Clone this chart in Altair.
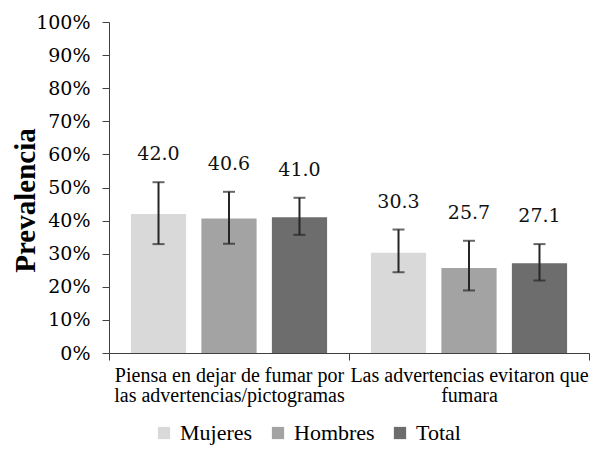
import altair as alt
import pandas as pd

categories = ["Piensa en dejar de fumar por\nlas advertencias/pictogramas",
              "Las advertencias evitaron que\nfumara"]
series = ["Mujeres", "Hombres", "Total"]
values = [[42.0, 40.6, 41.0], [30.3, 25.7, 27.1]]
lower = [[32.9, 33.0, 35.7], [24.4, 18.9, 21.9]]
upper = [[51.6, 48.7, 46.9], [37.3, 33.9, 32.9]]
colors = ["#d9d9d9", "#a3a3a3", "#6d6d6d"]
y_ticks = [0, 10, 20, 30, 40, 50, 60, 70, 80, 90, 100]

rows = []
for ci, c in enumerate(categories):
    for si, s in enumerate(series):
        rows.append({"cat": c, "serie": s, "value": values[ci][si],
                     "lo": lower[ci][si], "hi": upper[ci][si],
                     "lab": f"{values[ci][si]:.1f}"})
df = pd.DataFrame(rows)

NUM_FONT = "DejaVu Serif"
TXT_FONT = "Liberation Serif"
INK = "#262626"

x_axis = alt.Axis(labelAngle=0, labelExpr="split(datum.label, '\\n')",
                  labelFont=TXT_FONT, labelFontSize=20, labelColor="#000000",
                  labelLineHeight=20, labelPadding=5, labelLimit=0,
                  labelBaseline="top", labelOverlap=False,
                  tickBand="extent", tickSize=7, tickColor="#404040",
                  domainColor="#404040", grid=False)
y_axis = alt.Axis(values=y_ticks, labelExpr="datum.value + '%'",
                  labelFont=NUM_FONT, labelFontSize=19, labelColor="#000000",
                  labelPadding=12, labelOverlap=False, tickSize=7,
                  tickColor="#404040", domainColor="#404040", grid=False,
                  titleFont=TXT_FONT, titleFontSize=29, titleFontWeight="bold",
                  titleColor="#000000", titleX=-75, titleY=178,
                  titleBaseline="alphabetic", titleAlign="center", titleAngle=270)
x_scale = alt.Scale(paddingInner=0, paddingOuter=0)
y_scale = alt.Scale(domain=[0, 100], nice=False)

x_enc = alt.X("cat:N", sort=categories, title=None, scale=x_scale, axis=x_axis)
xo = alt.XOffset("serie:N", sort=series,
                 scale=alt.Scale(paddingInner=0.217, paddingOuter=0.311))


def y_enc(field):
    return alt.Y(field, type="quantitative", scale=y_scale, title="Prevalencia", axis=y_axis)


base = alt.Chart(df)

bars = base.mark_bar().encode(
    x=x_enc, xOffset=xo, y=y_enc("value"),
    color=alt.Color("serie:N", sort=series,
                    scale=alt.Scale(domain=series, range=colors),
                    legend=alt.Legend(title=None, orient="none", direction="horizontal",
                                      legendX=44, legendY=400, symbolType="square",
                                      symbolSize=150, symbolStrokeWidth=0,
                                      labelFont=TXT_FONT, labelFontSize=22,
                                      labelColor="#000000", labelOffset=5,
                                      columnPadding=14, padding=0)),
)

rules = base.mark_rule(color=INK, strokeWidth=2).encode(
    x=x_enc, xOffset=xo, y=y_enc("lo"), y2="hi:Q")

cap_hi = base.mark_tick(color=INK, thickness=2, size=12).encode(
    x=x_enc, xOffset=xo, y=y_enc("hi"))
cap_lo = base.mark_tick(color=INK, thickness=2, size=12).encode(
    x=x_enc, xOffset=xo, y=y_enc("lo"))

labels = base.mark_text(font=NUM_FONT, fontSize=19, color="#111111",
                        baseline="middle", dy=-28).encode(
    x=x_enc, xOffset=xo, y=y_enc("hi"), text="lab:N")

chart = alt.layer(bars, rules, cap_hi, cap_lo, labels).properties(
    width=480, height=331,
    autosize=alt.AutoSizeParams(type="none"),
    padding={"left": 101, "top": 14, "right": 1, "bottom": 93},
).configure(background="#ffffff").configure_view(stroke=None)

chart.save("out.html", embed_options={"renderer": "svg", "actions": False})
